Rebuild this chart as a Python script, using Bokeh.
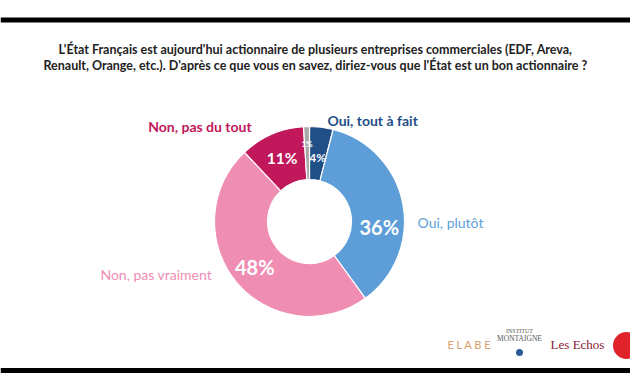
from bokeh.plotting import figure
from bokeh.models import Range1d, ColumnDataSource
from bokeh.core.properties import value
from bokeh.embed import file_html
from bokeh.resources import INLINE
import math

# ---- data ----
categories = ["Oui, tout à fait", "Oui, plutôt", "Non, pas vraiment", "Non, pas du tout", "NSP"]
values = [4, 36, 48, 11, 1]
pct_labels = ["4%", "36%", "48%", "11%", "1%"]
colors = ["#1f4f86", "#5e9ed8", "#ef8db3", "#c1175b", "#a8a8a8"]
title_lines = [
    "L'État Français est aujourd'hui actionnaire de plusieurs entreprises commerciales (EDF, Areva,",
    "Renault, Orange, etc.). D'après ce que vous en savez, diriez-vous que l'État est un bon actionnaire ?",
]

W, H = 630, 390
p = figure(width=W, height=H, output_backend="svg", toolbar_location=None,
           x_range=Range1d(0, W), y_range=Range1d(0, H),
           min_border=0, outline_line_color=None)
p.axis.visible = False
p.grid.visible = False
p.background_fill_color = "white"
p.border_fill_color = "white"

def Y(img_y):
    return 390 - img_y

cx, cy = 309, Y(221)
r_in, r_out = 42, 95

total = float(sum(values))
starts, ends, mids = [], [], []
cum = 0.0
for v in values:
    a0 = math.pi / 2 - 2 * math.pi * (cum + v) / total
    a1 = math.pi / 2 - 2 * math.pi * cum / total
    starts.append(a0)
    ends.append(a1)
    mids.append((a0 + a1) / 2)
    cum += v

src = ColumnDataSource(dict(start=starts, end=ends, color=colors, cat=categories, val=values))
p.annular_wedge(x=cx, y=cy, inner_radius=r_in, outer_radius=r_out,
                start_angle="start", end_angle="end", fill_color="color",
                line_color="white", line_width=1.2, source=src)

# percentage labels inside the ring
pct_sizes = ["12px", "20px", "20px", "15.5px", "8px"]
pct_r = [65, 70, 71, 69, 78]
pct_turn = [0, -15, 0, 0, 0]  # degrees (negative = clockwise)
for m, lab, fs, rr, t in zip(mids, pct_labels, pct_sizes, pct_r, pct_turn):
    a = m + math.radians(t)
    p.text(x=[cx + rr * math.cos(a)], y=[cy + rr * math.sin(a)], text=[lab],
           text_align="center", text_baseline="middle", text_color="white",
           text_font=value("Lato"), text_font_style="bold", text_font_size=fs)

# category labels outside
lab_r = [r_out + 8, r_out + 12, r_out + 12, r_out + 8]
lab_dx = [5, 3, -15, -17]
lab_dy = [-1, -21, 15, 0]
lab_align = ["left", "left", "right", "right"]
lab_style = ["bold", "normal", "normal", "bold"]
for i in range(4):
    m = mids[i]
    x = cx + lab_r[i] * math.cos(m) + lab_dx[i]
    y = cy + lab_r[i] * math.sin(m) + lab_dy[i]
    p.text(x=[x], y=[y], text=[categories[i]], text_align=lab_align[i],
           text_baseline="middle", text_color=colors[i], text_font=value("Lato"),
           text_font_style=lab_style[i], text_font_size="14px")

# title
for k, line in enumerate(title_lines):
    p.text(x=[315], y=[Y(49 + 16 * k)], text=[line], text_align="center",
           text_baseline="middle", text_color="#222222", text_font=value("Lato"),
           text_font_style="bold", text_font_size="12.5px")

# frame lines
p.segment(x0=[0], y0=[Y(19.5)], x1=[630], y1=[Y(19.5)], line_color="black", line_width=5)
p.segment(x0=[0], y0=[Y(370)], x1=[630], y1=[Y(370)], line_color="black", line_width=5)

# logos (approximations as text)
p.text(x=[469], y=[Y(344)], text=["E L A B E"], text_align="center", text_baseline="middle",
       text_color="#d9a070", text_font=value("Lato"), text_font_size="11px")
p.text(x=[519], y=[Y(330)], text=["INSTITUT"], text_align="center", text_baseline="middle",
       text_color="#555555", text_font=value("Liberation Serif"), text_font_size="6px")
p.text(x=[519], y=[Y(338)], text=["MONTAIGNE"], text_align="center", text_baseline="middle",
       text_color="#555555", text_font=value("Liberation Serif"), text_font_size="7.5px")
p.scatter(x=[519], y=[Y(352)], size=7, fill_color="#2a5a9a", line_color=None)
p.text(x=[577], y=[Y(344)], text=["Les Echos"], text_align="center", text_baseline="middle",
       text_color="#8a2030", text_font=value("Liberation Serif"), text_font_size="13px")
p.scatter(x=[626], y=[Y(345)], size=27, fill_color="#e0232a", line_color=None)

open("out.html", "w").write(file_html(p, INLINE))
